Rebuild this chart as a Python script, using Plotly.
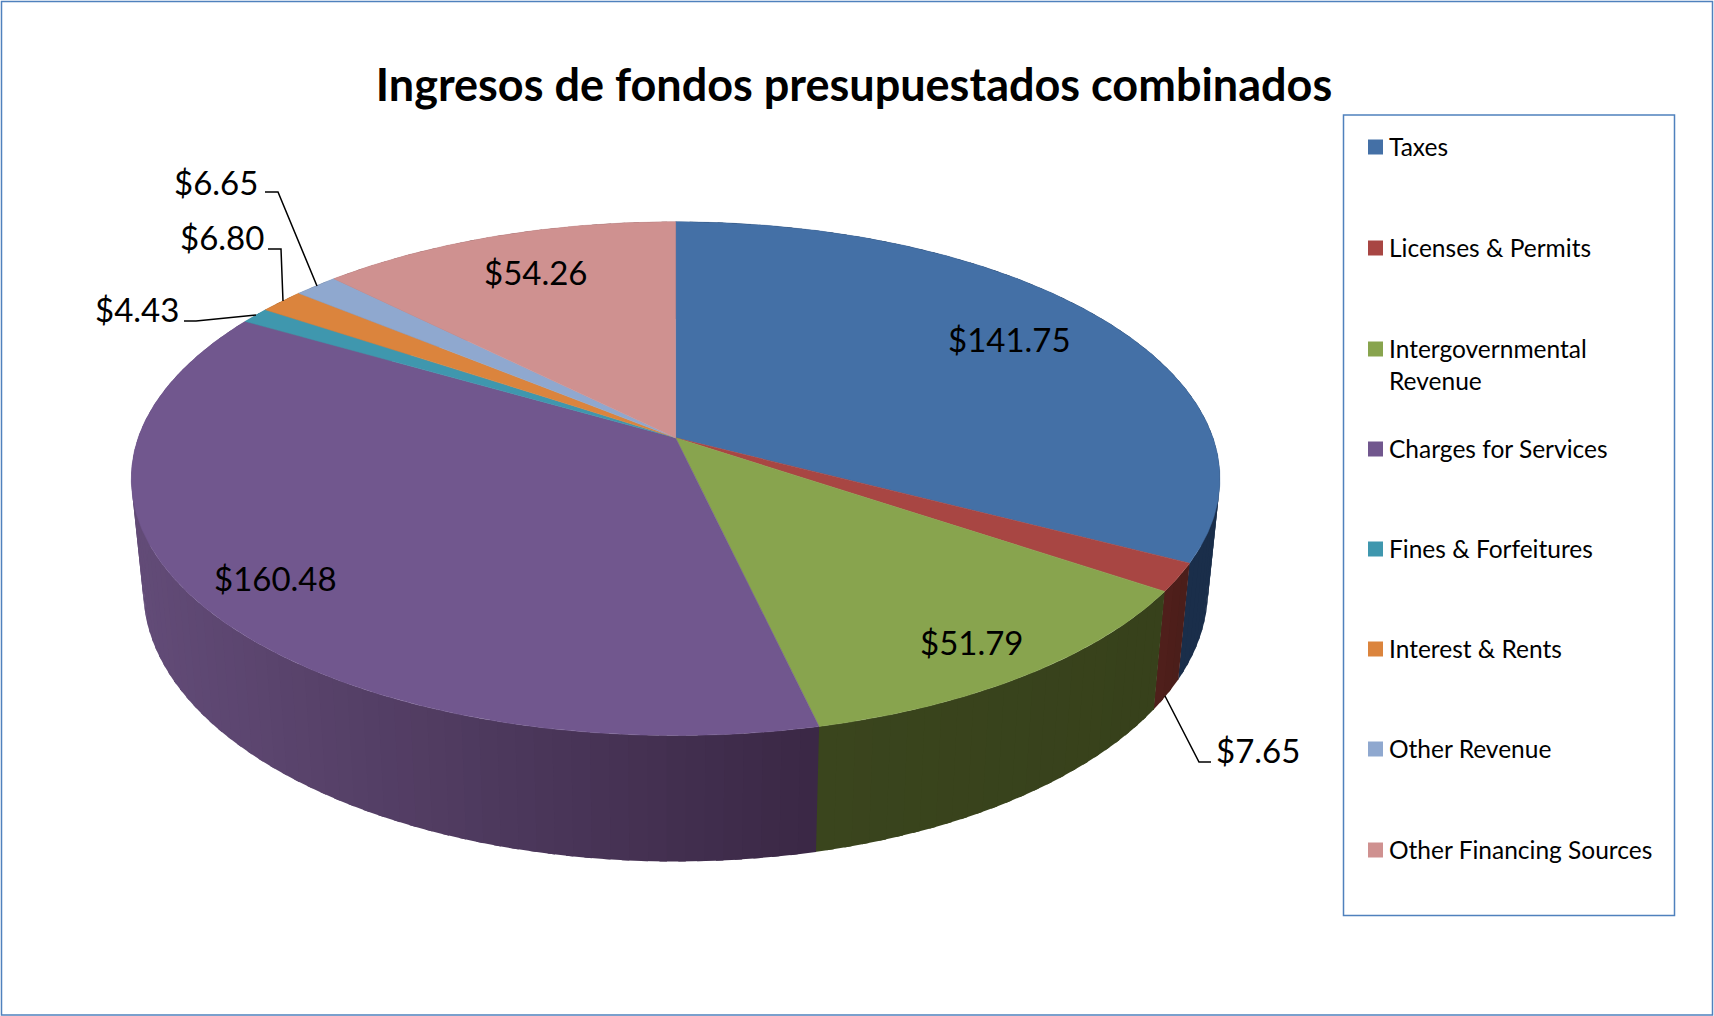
import numpy as np
import plotly.graph_objects as go

categories = ["Taxes", "Licenses & Permits", "Intergovernmental Revenue", "Charges for Services",
              "Fines & Forfeitures", "Interest & Rents", "Other Revenue", "Other Financing Sources"]
legend_labels = ["Taxes", "Licenses & Permits", "Intergovernmental<br>Revenue", "Charges for Services",
                 "Fines & Forfeitures", "Interest & Rents", "Other Revenue", "Other Financing Sources"]
values = [141.75, 7.65, 51.79, 160.48, 4.43, 6.80, 6.65, 54.26]
value_labels = ["$141.75", "$7.65", "$51.79", "$160.48", "$4.43", "$6.80", "$6.65", "$54.26"]
top_colors = ["#4470A6", "#A84643", "#88A44E", "#71578E", "#3F97AE", "#DB843D", "#8FA8CF", "#CF9190"]
side_left = ["#1A2E4A", "#501F1B", "#3A451D", "#624B77", "#2B6575", "#94592A", "#62718C", "#8C6262"]
side_right = ["#1A2E4A", "#4A1E1A", "#37411B", "#3A2845", "#2B6575", "#94592A", "#62718C", "#8C6262"]

W, H = 1714, 1016
BORDER = "#4F81BD"
FONT = "Lato"
CX, CY = 675.6, 437.8
A, B, K = 537.4, 250.4, 0.159
SX, SY, DY = 0.978, 1.056, 109.3

# label centres, leader paths, legend rows (pixel layout)
label_pos = [(1009, 339), (1258, 750), (972, 642), (275, 578), (137, 309), (222, 237), (216, 182), (536, 272)]
leaders = [[(1211, 762), (1199, 762), (1165, 696)],
           [(184, 321), (196, 321), (256, 315)],
           [(268, 249), (281, 249), (283, 301)],
           [(265, 192), (278, 192), (317, 286)]]
legend_y = [147, 248, 349, 449, 549, 649, 749, 850]
legend_box = (1343.5, 115, 1674.5, 915.5)


def top(theta):
    u, v = np.sin(theta), -np.cos(theta)
    w = 1 - K * v
    return A * u / w, B * v / w


def hex_mix(c1, c2, t):
    a = [int(c1[i:i + 2], 16) for i in (1, 3, 5)]
    b = [int(c2[i:i + 2], 16) for i in (1, 3, 5)]
    return "rgb(%d,%d,%d)" % tuple(round(p + (q - p) * t) for p, q in zip(a, b))


fig = go.Figure()
edges = np.concatenate([[0], np.cumsum(values)]) / sum(values) * 2 * np.pi

# side walls, drawn first so that the top face covers whatever lies behind it
for i, name in enumerate(categories):
    t0, t1 = edges[i], edges[i + 1]
    steps = max(2, int((t1 - t0) / 0.03))
    grid = np.linspace(t0, t1, steps + 1)
    left_x = min(top(t0)[0], top(t1)[0], -A if t0 < 1.5 * np.pi < t1 else 1e9)
    right_x = max(top(t0)[0], top(t1)[0])
    for j in range(steps):
        # each quad runs slightly past its neighbour's start, hiding the antialiased seam
        sub = np.linspace(grid[j], grid[j + 1] + 0.012, 5) if j < steps - 1 else np.linspace(grid[j], t1 + 0.002, 5)
        X, Y = top(sub)
        xs = np.concatenate([CX + X, CX + SX * X[::-1]])
        ys = np.concatenate([CY + Y, CY + SY * Y[::-1] + DY])
        mid_x, _ = top((grid[j] + grid[j + 1]) / 2)
        shade = (mid_x - left_x) / max(right_x - left_x, 1)
        col = hex_mix(side_left[i], side_right[i], float(np.clip(shade, 0, 1)))
        fig.add_trace(go.Scatter(x=xs, y=ys, mode="lines", fill="toself", fillcolor=col,
                                 line=dict(width=0), hoverinfo="skip", showlegend=False))

# top faces
for i, name in enumerate(categories):
    arc = np.linspace(edges[i], edges[i + 1], max(8, int((edges[i + 1] - edges[i]) / 0.01)))
    X, Y = top(arc)
    xs = np.concatenate([[CX], CX + X, [CX]])
    ys = np.concatenate([[CY], CY + Y, [CY]])
    fig.add_trace(go.Scatter(x=xs, y=ys, mode="lines", fill="toself", fillcolor=top_colors[i],
                             line=dict(color=top_colors[i], width=0.5), name=name,
                             text=name + " " + value_labels[i], hoverinfo="text", showlegend=False))

annotations = []
for lab, (x, y) in zip(value_labels, label_pos):
    annotations.append(dict(x=x, y=y, text=lab, showarrow=False, xanchor="center", yanchor="middle",
                            font=dict(family=FONT, size=33, color="#000000")))

shapes = [dict(type="rect", xref="paper", yref="paper", x0=1.5 / W, x1=(W - 1.5) / W, y0=1 / H, y1=1 - 1.5 / H,
               line=dict(color=BORDER, width=1.5), fillcolor="rgba(0,0,0,0)"),
          dict(type="rect", x0=legend_box[0], x1=legend_box[2], y0=legend_box[1], y1=legend_box[3],
               line=dict(color=BORDER, width=1.5), fillcolor="#FFFFFF", layer="below")]
for path in leaders:
    d = "M " + " L ".join(f"{x} {y}" for x, y in path)
    shapes.append(dict(type="path", path=d, line=dict(color="#000000", width=1.5)))

for lab, col, y in zip(legend_labels, top_colors, legend_y):
    shapes.append(dict(type="rect", x0=1368, x1=1383, y0=y - 7.5, y1=y + 7.5, fillcolor=col, line=dict(width=0)))
    two = "<br>" in lab
    annotations.append(dict(x=1387, y=y - 1, text=lab, showarrow=False, align="left",
                            xanchor="left", yanchor="top" if two else "middle",
                            yshift=16 if two else 0,
                            font=dict(family=FONT, size=24.5, color="#000000")))

fig.update_layout(
    width=W, height=H, autosize=False, margin=dict(l=0, r=0, t=0, b=0),
    paper_bgcolor="#FFFFFF", plot_bgcolor="#FFFFFF", showlegend=False,
    title=dict(text="Ingresos de fondos presupuestados combinados", x=854 / W, y=1 - 85 / H,
               xanchor="center", yanchor="middle", font=dict(family=FONT, size=45, color="#000000", weight="bold")),
    xaxis=dict(range=[0, W], visible=False, fixedrange=True),
    yaxis=dict(range=[H, 0], visible=False, fixedrange=True),
    annotations=annotations, shapes=shapes,
)
fig.write_html("out.html", config={"displayModeBar": False},
               post_script="document.body.style.margin='0';document.documentElement.style.overflow='hidden';")
